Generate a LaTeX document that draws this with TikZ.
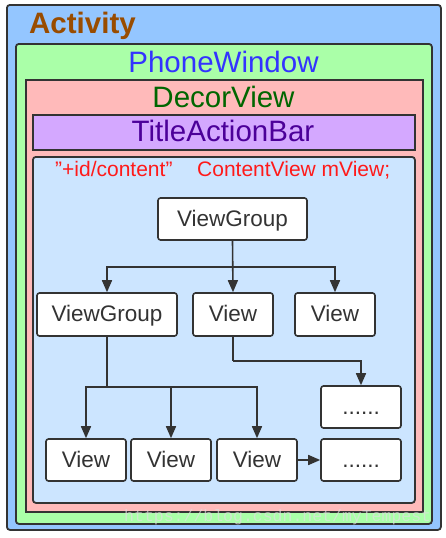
\documentclass[tikz,border=0pt]{standalone}
\usepackage{fontspec}
\setmainfont{Liberation Sans}
\setmonofont{Liberation Mono}
\usetikzlibrary{arrows.meta}
\definecolor{actblue}{HTML}{94C6FF}
\definecolor{pwgreen}{HTML}{AAFFA8}
\definecolor{dvpink}{HTML}{FFBABA}
\definecolor{tabpurple}{HTML}{D4A8FF}
\definecolor{ctblue}{HTML}{CCE5FF}
\definecolor{edge}{HTML}{333333}
\definecolor{actbrown}{HTML}{994C00}
\definecolor{pwblue}{HTML}{3333FF}
\definecolor{dvgreen}{HTML}{006600}
\definecolor{tabtext}{HTML}{4C0099}
\definecolor{ctred}{HTML}{FF1A1A}
\begin{document}
\begin{tikzpicture}[x=1pt,y=-1pt,
  container/.style={draw=edge, line width=1.8pt, inner sep=0pt, anchor=north west},
  vbox/.style={draw=edge, fill=white, line width=1.6pt, rounded corners=2.5pt, inner sep=0pt,
    minimum height=42pt, text height=15pt, text depth=1pt, text=edge, font=\fontsize{22.5}{26}\selectfont},
  conn/.style={draw=edge, line width=1.6pt},
  arr/.style={conn, -{Triangle[length=12pt,width=10pt]}},
  title/.style={anchor=base, inner sep=0pt, font=\fontsize{29.5}{34}\selectfont}
]
\useasboundingbox (0,0) rectangle (445,538);
% containers
\node[container, fill=actblue, rounded corners=3pt, minimum width=434pt, minimum height=525pt] (act) at (6,4) {};
\node[container, fill=pwgreen, rounded corners=3pt, minimum width=416pt, minimum height=480pt] (pw) at (15,43) {};
\node[container, fill=dvpink, minimum width=397pt, minimum height=432pt] (dv) at (25,79) {};
\node[container, fill=tabpurple, minimum width=382pt, minimum height=35pt] (tab) at (32,114) {};
\node[container, fill=ctblue, rounded corners=3pt, minimum width=382pt, minimum height=346pt] (ct) at (32,156) {};
% titles
\node[anchor=base west, inner sep=0pt, text=actbrown, font=\fontsize{29.5}{34}\selectfont\bfseries] (actlbl) at (29,33) {Activity};
\node[title, text=pwblue] (pwlbl) at (223.5,72) {PhoneWindow};
\node[title, text=dvgreen] (dvlbl) at (223.5,107) {DecorView};
\node[title, text=tabtext] (tablbl) at (223,141) {TitleActionBar};
\node[anchor=base west, inner sep=0pt, text=ctred, font=\fontsize{21}{24}\selectfont] (idlbl) at (55,176) {\char34+id/content\char34};
\node[anchor=base west, inner sep=0pt, text=ctred, font=\fontsize{21}{24}\selectfont] (cvlbl) at (197,176) {ContentView mView;};
% view boxes
\node[vbox, minimum width=149pt] (vg0) at (232.5,219) {ViewGroup};
\node[vbox, minimum width=140pt, minimum height=43pt] (vg1) at (107,314.5) {ViewGroup};
\node[vbox, minimum width=80pt, minimum height=43pt] (v1) at (233,314.5) {View};
\node[vbox, minimum width=80pt, minimum height=43pt] (v2) at (335,314.5) {View};
\node[vbox, minimum width=80pt] (d1) at (361,407) {......};
\node[vbox, minimum width=80pt] (d2) at (361,460) {......};
\node[vbox, minimum width=80pt] (b1) at (86,460) {View};
\node[vbox, minimum width=80pt] (b2) at (171,460) {View};
\node[vbox, minimum width=80pt] (b3) at (257,460) {View};
% connectors
\coordinate (bus1) at (232.5,267);
\coordinate (bus2) at (107,387);
\coordinate (elb) at (233,361);
\draw[arr] (vg0.south) -- (v1.north);
\draw[arr] (bus1) -| (vg1.north);
\draw[arr] (bus1) -| (v2.north);
\draw[conn] (vg1.south) -- (bus2);
\draw[arr] (bus2) -| (b1.north);
\draw[arr] (bus2) -| (b2.north);
\draw[arr] (bus2) -| (b3.north);
\draw[conn] (v1.south) -- (elb);
\draw[arr] (elb) -| (d1.north);
\draw[arr] (b3.east) -- (d2.west);
% watermark
\node[anchor=base west, inner sep=0pt, text=white!75!gray, opacity=0.7, font=\fontsize{16.5}{18}\ttfamily] (wm) at (124,521) {https://blog.csdn.net/myTempest};
\end{tikzpicture}
\end{document}
